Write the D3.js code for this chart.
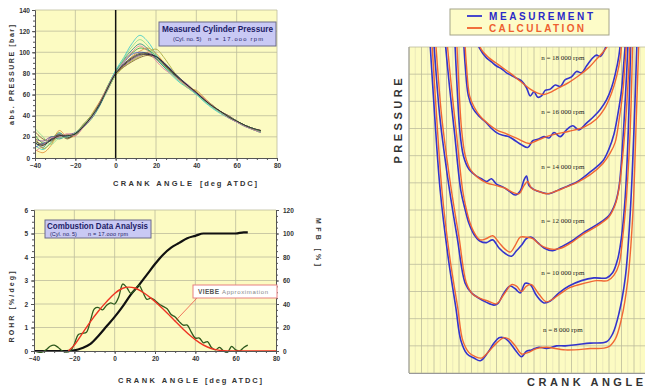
<!DOCTYPE html>
<html><head><meta charset="utf-8">
<script src="https://cdn.jsdelivr.net/npm/d3@7/dist/d3.min.js"></script>
<style>body{margin:0;background:#fff}svg{display:block}</style>
</head><body>
<svg id="c" width="645" height="389"></svg>
<script>
// ================= DATA =================
// Panel A: measured cylinder pressure (bar) vs crank angle (deg ATDC), 12 cycles
const pressureAngles = [-40,-36,-32,-28,-24,-20,-16,-12,-8,-4,0,4,8,12,16,20,24,28,32,36,40,44,48,52,56,60,64,68,72];
const cycle1  = [22,14,18,24,19,23,31,40,52,68,82,92,99,104,102,97,88,80,73,67,61,55,49,43,39,35,31,28,25];
const cycle2  = [12,8,15,20,21,22,29,38,50,67,83,95,108,116,110,98,86,78,71,66,60,53,47,42,38,34,30,27,24];
const cycle3  = [18,16,20,19,22,24,30,39,51,64,79,87,93,97,98,95,89,82,75,69,62,56,50,44,40,35,31,28,26];
const cycle4  = [8,5,12,26,20,21,30,41,53,66,79,88,96,101,104,99,90,81,73,66,64,57,49,44,39,35,31,27,25];
const cycle5  = [25,18,16,22,18,23,32,40,52,67,80,86,91,95,97,94,88,81,74,68,62,55,49,44,40,35,31,28,26];
const cycle6  = [15,10,20,18,21,22,29,37,49,65,81,93,102,108,103,94,86,80,74,68,61,54,48,43,38,34,30,27,24];
const cycle7  = [10,14,17,23,20,24,30,39,50,66,80,90,98,100,99,96,90,83,75,67,61,55,49,44,39,35,31,28,25];
const cycle8  = [20,9,14,21,22,22,31,40,51,65,78,86,92,96,100,103,95,84,74,68,63,56,50,44,39,35,31,28,25];
const cycle9  = [16,13,18,22,19,23,30,39,50,66,80,89,95,99,99,96,89,81,74,68,62,55,49,44,39,35,31,28,25];
const cycle10 = [6,12,19,20,23,21,29,38,52,67,81,91,100,106,101,92,84,79,73,67,62,56,49,43,38,34,30,27,24];
const cycle11 = [28,20,13,19,20,24,31,40,51,65,79,94,105,112,106,96,87,79,72,66,60,54,48,43,39,35,31,28,25];
const cycle12 = [14,12,17,21,21,23,30,39,51,66,80,88,94,98,98,96,90,82,75,68,62,55,49,44,39,35,31,28,26];
const pressureTicks = [0,20,40,60,80,100,120,140];
const angleTicks = [-40,-20,0,20,40,60,80];

// Panel B: rate of heat release (%/deg) and mass fraction burned (%)
const rohrAngles = [-40,-38,-36,-34,-32,-30,-28,-26,-24,-22,-20,-18,-16,-14,-12,-10,-8,-6,-4,-2,0,2,4,6,8,10,12,14,16,18,20,22,24,26,28,30,32,34,36,38,40,42,44,46,48,50,52,54,56,58,60,62,64,66];
const rohrMeasured = [0,-0.05,-0.05,0.05,0.2,0.25,0.15,0,-0.05,0,0.3,0.7,0.75,0.8,1.3,1.8,1.85,1.75,1.95,2.05,2.0,2.3,2.85,2.7,2.45,2.6,2.8,2.5,2.2,2.25,2.15,2.0,1.9,1.8,1.55,1.45,1.25,1.1,1.1,0.8,0.55,0.55,0.35,0.4,0.15,0.05,0.15,0,-0.05,0.2,0.05,0,0.15,0.25];
const viebeAngles = [-23,-20,-16,-12,-8,-4,0,4,7,10,14,18,22,26,30,34,38,42,46,50,54,58,80];
const viebeValues = [0,0.25,0.75,1.25,1.7,2.1,2.45,2.67,2.72,2.68,2.5,2.25,1.95,1.62,1.27,0.93,0.62,0.36,0.17,0.06,0.01,0,0];
const mfbAngles = [-40,-30,-24,-20,-16,-12,-8,-4,0,4,8,12,16,20,24,28,32,36,40,44,48,52,56,60,64,66];
const mfbValues = [0,0,0,0.5,2.5,6,13,21,29,38,48,56,65,74,82,88,92,96,98,100,100,100,100,100,101,101];
const rohrTicks = [0,1,2,3,4,5,6];
const mfbTicks = [0,20,40,60,80,100,120];

// Panel C: pressure traces, measurement vs calculation, [crank angle, pressure]
const rpmLabels = ["n =  8 000 rpm","n =  10 000 rpm","n = 12 000 rpm","n = 14 000 rpm","n = 16 000 rpm","n = 18 000 rpm"];
const calc8000 = [[18,12.4],[22,9.5],[26.4,6.7],[32.8,4.2],[39,2.4],[43,1.2],[48,0.75],[53,0.6],[58,0.55],[64,0.8],[70,1.1],[76,1.3],[80,1.25],[85,1.0],[90,0.7],[95,0.75],[102,0.9],[110,0.95],[125,0.85],[145,0.9],[159,0.95],[165,1.25],[170,2.0],[175,3.4],[179,5.8],[182,9.6],[184,12.4]];
const meas8000 = [[16.5,12.4],[20.5,9.5],[25,6.7],[31.5,4.2],[37.5,2.4],[41.5,1.2],[46.5,0.7],[52,0.55],[57,0.45],[63,0.75],[68,1.1],[72,1.3],[76,1.3],[80,1.15],[85,0.85],[90,0.6],[94,0.8],[98,0.85],[104,0.95],[110,0.9],[118,1.0],[125,1.0],[135,1.05],[145,1.1],[158,1.15],[163,1.45],[168,2.2],[173,3.5],[177,5.9],[180.5,9.6],[182.5,12.4]];
const calc10000 = [[21,12.4],[26,9.5],[30,8.0],[34,6.7],[40,5.0],[46,3.3],[51,2.9],[57,2.75],[63,2.65],[70,2.55],[76,2.9],[82,3.25],[86,3.2],[90,3.0],[94,3.2],[98,3.25],[104,2.9],[110,2.62],[116,2.75],[122,2.95],[129,3.15],[140,3.3],[150,3.4],[159,3.4],[164,3.6],[168,4.0],[171,5.0],[174,6.5],[177,9.0],[179,12.4]];
const meas10000 = [[19.5,12.4],[24.5,9.5],[28.5,8.0],[32.5,6.7],[38.5,5.0],[45,3.3],[50,2.95],[56,2.75],[62,2.6],[68,2.5],[71,2.55],[76,2.95],[81,3.2],[85,3.1],[89,2.95],[93,3.3],[97,3.25],[102,2.85],[108,2.58],[113,2.65],[120,2.95],[128,3.2],[138,3.4],[148,3.5],[158,3.5],[163,3.7],[167,4.2],[170,5.0],[173,6.5],[175.5,9.0],[177.5,12.4]];
const calc12000 = [[30,12.4],[34,10.5],[38,8.8],[43,6.7],[46,6.0],[49,5.5],[53,5.1],[57,4.9],[62,4.95],[67,5.05],[72,4.8],[77,4.55],[81,4.45],[85,4.7],[89,5.0],[94,5.0],[99,4.95],[104,4.75],[110,4.6],[116,4.55],[122,4.6],[130,4.8],[139,5.1],[150,5.4],[160,5.75],[165,6.2],[168,6.8],[172,8.5],[175,10.5],[177,12.4]];
const meas12000 = [[28.5,12.4],[32.5,10.5],[36.5,8.8],[41.5,6.7],[45,6.0],[48,5.5],[52,5.1],[57,4.85],[62,4.8],[67,4.9],[72,4.6],[77,4.4],[82,4.3],[86,4.5],[90,4.7],[94,4.95],[98,5.0],[103,4.8],[108,4.6],[115,4.5],[122,4.65],[130,4.85],[139,5.15],[150,5.45],[160,5.8],[165,6.25],[168,6.85],[171,8.5],[173.5,10.5],[175.5,12.4]];
const calc14000 = [[38,12.4],[40,10.5],[42,9.0],[45,8.0],[49,7.5],[55,7.2],[62,7.0],[70,6.9],[77,6.8],[83,6.65],[88,6.6],[92,6.9],[95,7.05],[98,6.8],[103,6.7],[110,6.6],[118,6.7],[126,6.85],[134,7.0],[145,7.3],[155,7.7],[161,8.1],[165,8.5],[168,9.3],[171,10.3],[173,11.5],[174.5,12.4]];
const meas14000 = [[36.5,12.4],[38.5,10.5],[40.5,9.0],[43.5,8.0],[48,7.5],[54,7.25],[58,7.15],[62,7.05],[66,7.15],[70,6.95],[75,6.85],[80,6.7],[85,6.55],[89,6.7],[92,7.1],[94,7.25],[96,6.9],[100,6.75],[106,6.65],[112,6.6],[120,6.75],[128,6.9],[135,7.05],[145,7.4],[155,7.8],[160,8.25],[164,8.8],[167,9.5],[170,10.4],[172,11.5],[173.5,12.4]];
const calc16000 = [[44.5,12.4],[46,11.3],[48.5,10.2],[52,9.8],[57,9.45],[64,9.15],[70,8.95],[78,8.8],[88,8.6],[96,8.45],[102,8.55],[110,8.7],[118,8.8],[128,8.9],[140,9.05],[150,9.35],[156,9.7],[162,10.3],[166,10.9],[169,11.6],[170.5,12.4]];
const meas16000 = [[43.5,12.4],[45,11.3],[47.5,10.2],[51,9.75],[56,9.45],[61,9.25],[66,9.0],[70,8.85],[75,8.75],[80,8.7],[85,8.55],[90,8.4],[95,8.3],[99,8.55],[103,8.6],[108,8.7],[112,8.65],[116,8.85],[121,8.7],[126,8.95],[131,9.1],[136,8.95],[142,9.2],[148,9.45],[153,9.7],[158,10.05],[162,10.5],[165,11.0],[168,11.7],[169.5,12.4]];
const calc18000 = [[54,12.4],[58,11.9],[64,11.6],[70,11.4],[76,11.2],[82,11.0],[90,10.7],[97,10.45],[103,10.3],[108,10.25],[114,10.35],[120,10.5],[128,10.7],[136,10.95],[144,11.25],[150,11.55],[155,11.8],[159,12.05],[161,12.4]];
const meas18000 = [[53,12.4],[56.5,11.95],[62,11.6],[66,11.45],[70,11.3],[74,11.2],[78,11.05],[82,10.95],[86,10.85],[90,10.75],[94,10.5],[97,10.2],[100,10.35],[103,10.15],[106,10.2],[109,10.4],[113,10.45],[117,10.6],[121,10.55],[125,10.8],[130,10.9],[134,11.1],[138,11.05],[142,11.3],[147,11.6],[150,11.7],[153,11.65],[157,11.95],[160,12.4]];

// ================= DRAWING =================
const svg = d3.select('#c');
const BG = '#fcfbc2', GRID = '#bdbc9c', AX = '#555';
const SANS = 'Liberation Sans, Arial, sans-serif';
function styleAxis(g, fs){
  g.attr('font-family', SANS).attr('font-size', fs || 7).attr('font-weight','bold');
  g.selectAll('text').attr('fill','#333');
  g.selectAll('line').attr('stroke', AX);
  g.select('.domain').attr('stroke', AX);
}
function minor(g){ g.selectAll('text').remove(); g.select('.domain').remove(); g.selectAll('line').attr('stroke', AX); }
const fmtInt = d3.format('d');

// ---------- Panel A ----------
const xA = d3.scaleLinear().domain([-40,80]).range([35,277]);
const yA = d3.scaleLinear().domain([0,140]).range([158,10]);
const gA = svg.append('g');
gA.append('rect').attr('x',xA(-40)).attr('y',yA(140)).attr('width',xA(80)-xA(-40)).attr('height',yA(0)-yA(140)).attr('fill',BG);
gA.selectAll('line.vg').data(angleTicks.filter(v=>v!==-40&&v!==0)).join('line').attr('class','vg')
  .attr('x1',d=>xA(d)).attr('x2',d=>xA(d)).attr('y1',yA(0)).attr('y2',yA(140)).attr('stroke',GRID).attr('stroke-width',0.8);
gA.selectAll('line.hg').data(pressureTicks.filter(v=>v>0)).join('line').attr('class','hg')
  .attr('x1',xA(-40)).attr('x2',xA(80)).attr('y1',d=>yA(d)).attr('y2',d=>yA(d)).attr('stroke',GRID).attr('stroke-width',0.8);
const traceColors = ['#3c9c3c','#3cc8c8','#7a3c9c','#e0903c','#7a5a30','#2c8a8a','#4a64c8','#a8a83c','#404040','#e07ca0','#8cd88c','#202020'];
const cycles = [cycle1,cycle2,cycle3,cycle4,cycle5,cycle6,cycle7,cycle8,cycle9,cycle10,cycle11,cycle12];
const lineA = d3.line().x((d,i)=>xA(pressureAngles[i])).y(d=>yA(d)).curve(d3.curveCatmullRom);
cycles.forEach((c,i)=>gA.append('path').attr('d',lineA(c)).attr('fill','none')
  .attr('stroke',traceColors[i]).attr('stroke-width',1).attr('opacity',0.85));
gA.append('line').attr('x1',xA(0)).attr('x2',xA(0)).attr('y1',yA(0)).attr('y2',yA(140)).attr('stroke','#111').attr('stroke-width',1.5);
gA.append('g').attr('transform',`translate(${xA(-40)},0)`).call(d3.axisLeft(yA).tickValues(d3.range(0,141,5)).tickSize(2)).call(minor);
gA.append('g').attr('transform',`translate(${xA(-40)},0)`).call(d3.axisLeft(yA).tickValues(pressureTicks).tickSize(3).tickPadding(2)).call(g=>styleAxis(g,6.5));
gA.append('g').attr('transform',`translate(0,${yA(0)})`).call(d3.axisBottom(xA).tickValues(d3.range(-40,81,5)).tickSize(2)).call(minor);
gA.append('g').attr('transform',`translate(0,${yA(0)})`).call(d3.axisBottom(xA).tickValues(angleTicks).tickSize(3).tickPadding(2)).call(g=>styleAxis(g,6.5));
// title box
gA.append('rect').attr('x',159).attr('y',22).attr('width',117).attr('height',24).attr('fill','#c9c9f4').attr('stroke','#6a6a8a').attr('stroke-width',1);
gA.append('text').attr('x',162).attr('y',32).attr('textLength',111).attr('lengthAdjust','spacingAndGlyphs')
  .attr('font-family',SANS).attr('font-weight','bold').attr('font-size',9).attr('fill','#1c1c66').text('Measured Cylinder Pressure');
gA.append('text').attr('x',173).attr('y',41).attr('font-family',SANS).attr('font-size',5.8).attr('fill','#1c1c66').text('(Cyl. no. 5)');
gA.append('text').attr('x',208).attr('y',41).attr('textLength',55).attr('font-family',SANS).attr('font-size',5.8).attr('fill','#1c1c66').text('n = 17.ooo rpm');
// axis titles
gA.append('text').attr('transform','translate(14,75) rotate(-90)').attr('text-anchor','middle').attr('textLength',100)
  .attr('font-family',SANS).attr('font-weight','bold').attr('font-size',7).attr('fill','#333').text('abs. PRESSURE  [bar]');
gA.append('text').attr('x',113).attr('y',186).attr('textLength',79).attr('font-family',SANS).attr('font-weight','bold').attr('font-size',7.5).attr('fill','#333').text('CRANK ANGLE');
gA.append('text').attr('x',200).attr('y',186).attr('textLength',57).attr('font-family',SANS).attr('font-weight','bold').attr('font-size',7.5).attr('fill','#333').text('[deg ATDC]');

// ---------- Panel B ----------
const xB = d3.scaleLinear().domain([-40,80]).range([34,276]);
const yB = d3.scaleLinear().domain([0,6]).range([351,210]);
const yB2 = d3.scaleLinear().domain([0,120]).range([351,210]);
const gB = svg.append('g');
gB.append('rect').attr('x',xB(-40)).attr('y',yB(6)).attr('width',xB(80)-xB(-40)).attr('height',yB(0)-yB(6)).attr('fill',BG);
gB.selectAll('line.vg').data(angleTicks.filter(v=>v!==-40&&v!==80)).join('line').attr('class','vg')
  .attr('x1',d=>xB(d)).attr('x2',d=>xB(d)).attr('y1',yB(0)).attr('y2',yB(6)).attr('stroke',GRID).attr('stroke-width',0.8);
gB.selectAll('line.hg').data(rohrTicks.filter(v=>v>0)).join('line').attr('class','hg')
  .attr('x1',xB(-40)).attr('x2',xB(80)).attr('y1',d=>yB(d)).attr('y2',d=>yB(d)).attr('stroke',GRID).attr('stroke-width',0.8);
// MFB
gB.append('path').datum(mfbValues).attr('d',d3.line().x((d,i)=>xB(mfbAngles[i])).y(d=>yB2(d)).curve(d3.curveMonotoneX))
  .attr('fill','none').attr('stroke','#111').attr('stroke-width',2.2);
// ROHR measured
gB.append('path').datum(rohrMeasured).attr('d',d3.line().x((d,i)=>xB(rohrAngles[i])).y(d=>yB(d)).curve(d3.curveCatmullRom))
  .attr('fill','none').attr('stroke','#2f5a1e').attr('stroke-width',1.3);
// Viebe
gB.append('path').datum(viebeValues).attr('d',d3.line().x((d,i)=>xB(viebeAngles[i])).y(d=>yB(d)).curve(d3.curveMonotoneX))
  .attr('fill','none').attr('stroke','#ee3322').attr('stroke-width',1.4);
gB.append('g').attr('transform',`translate(${xB(-40)},0)`).call(d3.axisLeft(yB).tickValues(d3.range(0,6.01,0.25)).tickSize(2)).call(minor);
gB.append('g').attr('transform',`translate(${xB(-40)},0)`).call(d3.axisLeft(yB).tickValues(rohrTicks).tickFormat(fmtInt).tickSize(3).tickPadding(3)).call(g=>styleAxis(g,6.5));
gB.append('g').attr('transform',`translate(${xB(80)},0)`).call(d3.axisRight(yB2).tickValues(d3.range(0,121,5)).tickSize(2)).call(minor);
gB.append('g').attr('transform',`translate(${xB(80)},0)`).call(d3.axisRight(yB2).tickValues(mfbTicks).tickSize(3).tickPadding(4)).call(g=>styleAxis(g,6.5));
gB.append('g').attr('transform',`translate(0,${yB(0)})`).call(d3.axisBottom(xB).tickValues(d3.range(-40,81,5)).tickSize(2)).call(minor);
gB.append('g').attr('transform',`translate(0,${yB(0)})`).call(d3.axisBottom(xB).tickValues(angleTicks).tickSize(3).tickPadding(2)).call(g=>styleAxis(g,6.5));
// box
gB.append('rect').attr('x',45).attr('y',220).attr('width',106).attr('height',18).attr('fill','#c9c9f4').attr('stroke','#6a6a8a');
gB.append('text').attr('x',47).attr('y',229).attr('textLength',101).attr('lengthAdjust','spacingAndGlyphs')
  .attr('font-family',SANS).attr('font-weight','bold').attr('font-size',8.5).attr('fill','#1c1c66').text('Combustion Data Analysis');
gB.append('text').attr('x',50).attr('y',236).attr('font-family',SANS).attr('font-size',5.5).attr('fill','#1c1c66').text('(Cyl. no. 5)');
gB.append('text').attr('x',88).attr('y',236).attr('textLength',40).attr('font-family',SANS).attr('font-size',5.5).attr('fill','#1c1c66').text('n = 17.ooo rpm');
// VIEBE annotation
gB.append('line').attr('x1',197).attr('y1',298).attr('x2',xB(30)).attr('y2',yB(viebeValues[14])).attr('stroke','#ee5544').attr('stroke-width',0.8);
gB.append('rect').attr('x',193).attr('y',285).attr('width',84).attr('height',13).attr('fill','#fff').attr('stroke','#e88080').attr('stroke-width',1);
gB.append('text').attr('x',198).attr('y',294).attr('textLength',21).attr('font-family',SANS).attr('font-weight','bold').attr('font-size',6.5).attr('fill','#555').text('VIEBE');
gB.append('text').attr('x',222).attr('y',294).attr('textLength',46).attr('font-family',SANS).attr('font-size',6).attr('fill','#888').text('Approximation');
// axis titles
gB.append('text').attr('transform','translate(14,307) rotate(-90)').attr('text-anchor','middle').attr('textLength',71)
  .attr('font-family',SANS).attr('font-weight','bold').attr('font-size',7).attr('fill','#333').text('ROHR   [%/deg]');
gB.append('text').attr('transform','translate(316,242) rotate(90)').attr('text-anchor','middle').attr('textLength',48)
  .attr('font-family',SANS).attr('font-weight','bold').attr('font-size',7).attr('fill','#333').text('MFB   [%]');
gB.append('text').attr('x',118).attr('y',383).attr('textLength',80).attr('font-family',SANS).attr('font-weight','bold').attr('font-size',7.5).attr('fill','#333').text('CRANK ANGLE');
gB.append('text').attr('x',205).attr('y',383).attr('textLength',57).attr('font-family',SANS).attr('font-weight','bold').attr('font-size',7.5).attr('fill','#333').text('[deg ATDC]');

// ---------- Panel C ----------
const xC = d3.scaleLinear().domain([0,190]).range([409,646.5]);
const yC = d3.scaleLinear().domain([0,12]).range([373,47]);
const gC = svg.append('g');
gC.append('defs').append('clipPath').attr('id','clipC').append('rect')
  .attr('x',xC(0)).attr('y',yC(12)).attr('width',xC(190)-xC(0)).attr('height',yC(0)-yC(12));
gC.append('rect').attr('x',xC(0)).attr('y',yC(12)).attr('width',xC(190)-xC(0)).attr('height',yC(0)-yC(12)).attr('fill',BG);
gC.selectAll('line.vg').data(d3.range(0,191,10)).join('line').attr('class','vg')
  .attr('x1',d=>xC(d)).attr('x2',d=>xC(d)).attr('y1',yC(0)).attr('y2',yC(12)).attr('stroke',GRID).attr('stroke-width',0.8);
gC.selectAll('line.vg2').data(d3.range(5,191,10)).join('line').attr('class','vg2')
  .attr('x1',d=>xC(d)).attr('x2',d=>xC(d)).attr('y1',yC(0)).attr('y2',yC(12)).attr('stroke','#d8d7b4').attr('stroke-width',0.5);
gC.selectAll('line.hg').data(d3.range(0,12.01,1)).join('line').attr('class','hg')
  .attr('x1',xC(0)).attr('x2',xC(190)).attr('y1',d=>yC(d)).attr('y2',d=>yC(d)).attr('stroke',GRID).attr('stroke-width',0.8);
gC.append('line').attr('x1',xC(0)).attr('x2',xC(0)).attr('y1',yC(0)).attr('y2',yC(12)).attr('stroke','#999');
gC.append('line').attr('x1',xC(0)).attr('x2',xC(190)).attr('y1',yC(0)+0.5).attr('y2',yC(0)+0.5).attr('stroke','#999');
const lineC = d3.line().x(d=>xC(d[0])).y(d=>yC(d[1])).curve(d3.curveCatmullRom);
const calcSets = [calc8000,calc10000,calc12000,calc14000,calc16000,calc18000];
const measSets = [meas8000,meas10000,meas12000,meas14000,meas16000,meas18000];
const curves = gC.append('g').attr('clip-path','url(#clipC)');
measSets.forEach(s=>curves.append('path').attr('d',lineC(s)).attr('fill','none').attr('stroke','#3434cc').attr('stroke-width',1.6));
calcSets.forEach(s=>curves.append('path').attr('d',lineC(s)).attr('fill','none').attr('stroke','#f0602c').attr('stroke-width',1.4).attr('opacity',0.95));
const labelLevels = [1.58,3.68,5.6,7.58,9.6,11.6];
rpmLabels.forEach((t,i)=>gC.append('text').attr('x',xC(123)).attr('y',yC(labelLevels[i])+2).attr('text-anchor','middle')
  .attr('font-family','Liberation Serif, Times New Roman, serif').attr('font-size',7).attr('fill','#222').text(t));
// legend
gC.append('rect').attr('x',450).attr('y',9).attr('width',159).attr('height',26).attr('fill','#fdfcc8').attr('stroke','#a4a48a');
gC.append('line').attr('x1',467).attr('x2',482).attr('y1',16).attr('y2',16).attr('stroke','#3434cc').attr('stroke-width',1.8);
gC.append('line').attr('x1',467).attr('x2',482).attr('y1',28).attr('y2',28).attr('stroke','#f0602c').attr('stroke-width',1.8);
gC.append('text').attr('x',489).attr('y',20).attr('textLength',104).attr('font-family',SANS).attr('font-weight','bold').attr('font-size',10).attr('fill','#2a2ac8').text('MEASUREMENT');
gC.append('text').attr('x',489).attr('y',32).attr('textLength',95).attr('font-family',SANS).attr('font-weight','bold').attr('font-size',10).attr('fill','#ee6030').text('CALCULATION');
gC.append('text').attr('transform','translate(402,121) rotate(-90)').attr('text-anchor','middle').attr('textLength',85)
  .attr('font-family',SANS).attr('font-weight','bold').attr('font-size',11).attr('fill','#333').text('PRESSURE');
gC.append('text').attr('x',527).attr('y',386).attr('textLength',116).attr('font-family',SANS).attr('font-weight','bold').attr('font-size',11).attr('fill','#333').text('CRANK ANGLE');
</script>
</body></html>
